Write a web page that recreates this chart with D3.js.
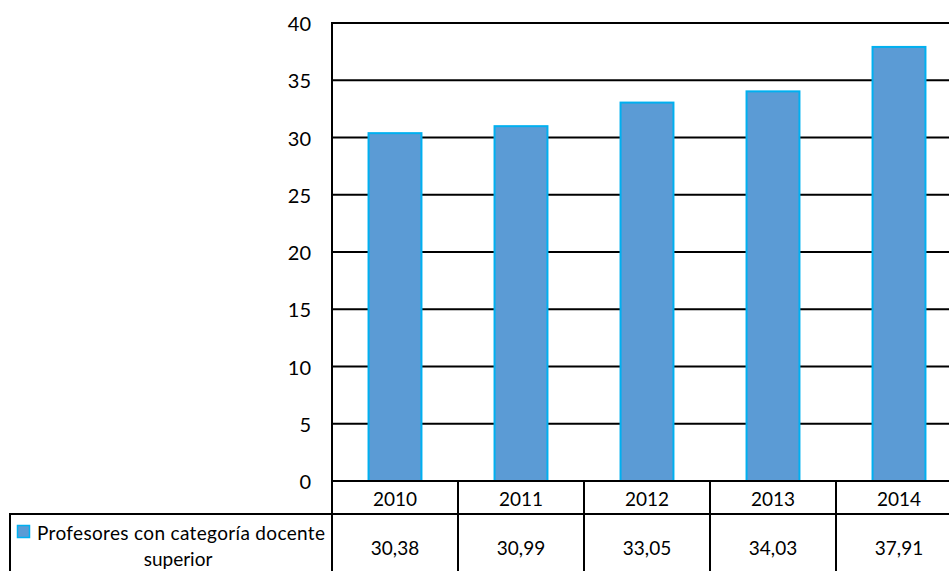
<!DOCTYPE html>
<html>
<head>
<meta charset="utf-8">
<script src="https://cdn.jsdelivr.net/npm/d3@7"></script>
<style>
  html, body { margin: 0; padding: 0; background: #fff; }
  svg { display: block; }
  text { font-family: Lato, "Open Sans", sans-serif; fill: #000; }
</style>
</head>
<body>
<svg id="chart" width="949" height="571"></svg>
<script>
// Data
const years = ["2010", "2011", "2012", "2013", "2014"];
const values = [30.38, 30.99, 33.05, 34.03, 37.91];
const valueLabels = ["30,38", "30,99", "33,05", "34,03", "37,91"];
const yTicks = [0, 5, 10, 15, 20, 25, 30, 35, 40];
const seriesName = ["Profesores con categoría docente", "superior"];

const W = 949, H = 571;
const plotLeft = 332, plotRight = 962, plotTop = 23, plotBottom = 481;
const rowSplit = 514;
const legendLeft = 10;

const svg = d3.select("#chart");

const x = d3.scaleBand().domain(years).range([plotLeft, plotRight]).padding(0);
const y = d3.scaleLinear().domain([0, 40]).range([plotBottom, plotTop]);

// Horizontal gridlines
svg.append("g").selectAll("line").data(yTicks.filter(d => d > 0)).join("line")
  .attr("x1", plotLeft).attr("x2", W)
  .attr("y1", d => y(d)).attr("y2", d => y(d))
  .attr("stroke", "#000").attr("stroke-width", 2);

// Bars
const barW = x.bandwidth() * 0.42;
svg.append("g").selectAll("rect").data(values).join("rect")
  .attr("x", (d, i) => x(years[i]) + (x.bandwidth() - barW) / 2)
  .attr("y", d => y(d))
  .attr("width", barW)
  .attr("height", d => y(0) - y(d))
  .attr("fill", "#5B9BD5")
  .attr("stroke", "#00B0F0")
  .attr("stroke-width", 2);

// Y-axis labels
svg.append("g").selectAll("text").data(yTicks).join("text")
  .attr("x", 311).attr("y", d => y(d))
  .attr("text-anchor", "end").attr("dominant-baseline", "central")
  .style("font-size", "20px")
  .text(d => d);

// Data table lines
const tbl = svg.append("g").attr("stroke", "#000").attr("stroke-width", 2);
// axis line / top of table
tbl.append("line").attr("x1", plotLeft).attr("x2", W).attr("y1", plotBottom).attr("y2", plotBottom);
// row separator including legend cell
tbl.append("line").attr("x1", legendLeft - 1).attr("x2", W).attr("y1", rowSplit).attr("y2", rowSplit);
// left axis line
tbl.append("line").attr("x1", plotLeft).attr("x2", plotLeft).attr("y1", plotTop - 1).attr("y2", H);
// legend cell left border
tbl.append("line").attr("x1", legendLeft).attr("x2", legendLeft).attr("y1", rowSplit).attr("y2", H);
// column separators
tbl.selectAll("line.col").data(years.slice(1)).join("line").attr("class", "col")
  .attr("x1", d => x(d)).attr("x2", d => x(d))
  .attr("y1", plotBottom).attr("y2", H);

// Year header row
svg.append("g").selectAll("text").data(years).join("text")
  .attr("x", d => x(d) + x.bandwidth() / 2)
  .attr("y", (plotBottom + rowSplit) / 2 + 1)
  .attr("text-anchor", "middle").attr("dominant-baseline", "central")
  .style("font-size", "19px")
  .text(d => d);

// Value row
svg.append("g").selectAll("text").data(valueLabels).join("text")
  .attr("x", (d, i) => x(years[i]) + x.bandwidth() / 2)
  .attr("y", 547)
  .attr("text-anchor", "middle").attr("dominant-baseline", "central")
  .style("font-size", "19px")
  .text(d => d);

// Legend key and series name
svg.append("rect")
  .attr("x", 17.5).attr("y", 525.5).attr("width", 12).attr("height", 12)
  .attr("fill", "#5B9BD5").attr("stroke", "#00B0F0").attr("stroke-width", 1.5);

svg.append("text")
  .attr("x", 37).attr("y", 532)
  .attr("dominant-baseline", "central")
  .attr("textLength", 288).attr("lengthAdjust", "spacing")
  .style("font-size", "19px")
  .text(seriesName[0]);

svg.append("text")
  .attr("x", 178).attr("y", 558)
  .attr("text-anchor", "middle").attr("dominant-baseline", "central")
  .style("font-size", "19px")
  .text(seriesName[1]);
</script>
</body>
</html>
